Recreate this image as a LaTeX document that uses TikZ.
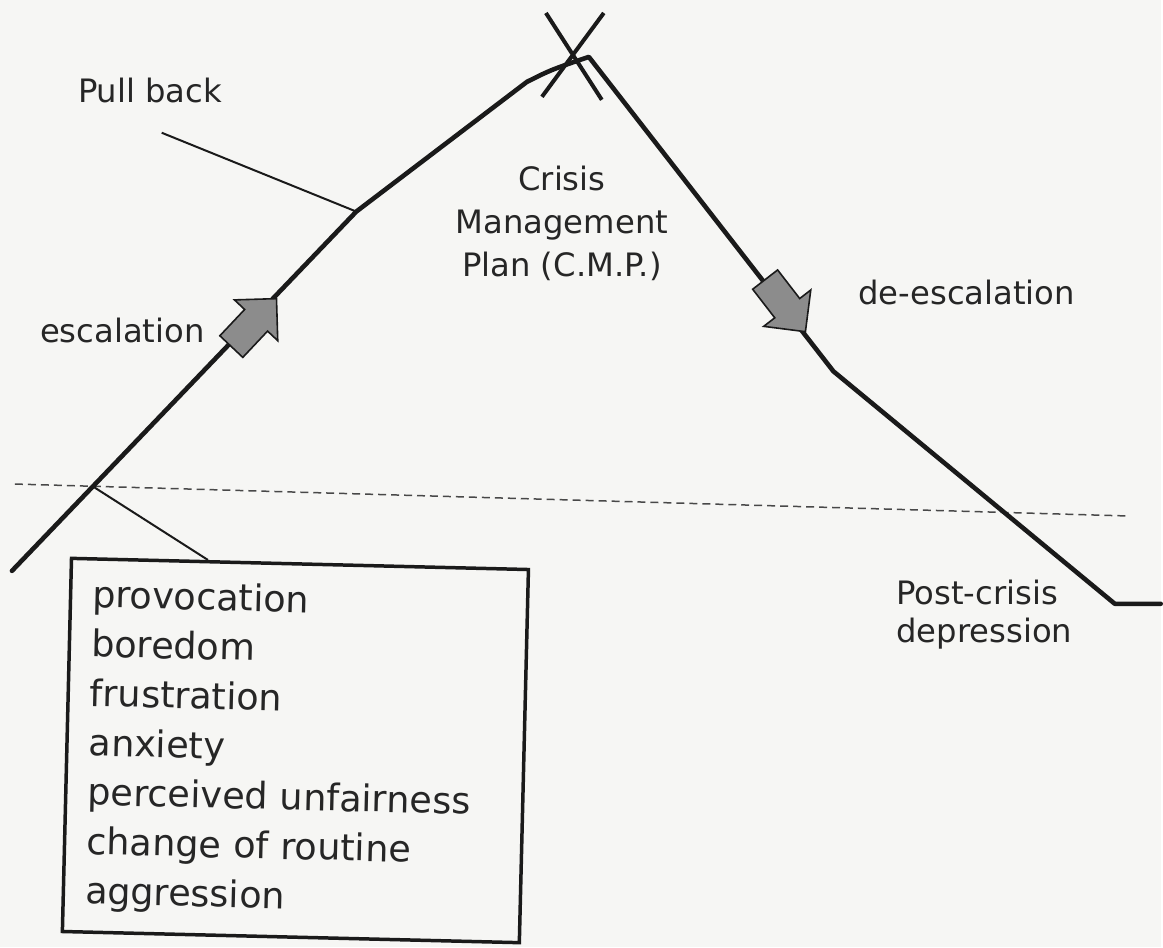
\documentclass[tikz,border=0pt]{standalone}
\usepackage{fontspec}
\setmainfont{DejaVu Sans}
\usepackage{tikz}
\usetikzlibrary{arrows.meta,positioning,calc,shapes.arrows}
\definecolor{ink}{HTML}{1A1A1A}
\definecolor{txt}{HTML}{262626}
\definecolor{paper}{HTML}{F6F6F4}
\tikzset{
  curve/.style={draw=ink,line width=4.6pt,line join=round,line cap=round},
  thinln/.style={draw=ink,line width=2pt},
  guide/.style={draw=ink!80,line width=1.5pt,dash pattern=on 8pt off 5pt},
  crossln/.style={draw=ink,line width=4pt},
  lbl/.style={text=txt,inner sep=0pt,font=\fontsize{32.3}{43}\selectfont},
  blk/.style={draw=ink,line width=1.6pt,fill=black!45,single arrow,single arrow head extend=14pt,minimum height=66pt,inner xsep=0pt,inner ysep=15pt},
  listbox/.style={draw=ink,line width=3.5pt,rotate=-1.4,minimum width=458pt,minimum height=374pt,inner xsep=22pt,text width=414pt,align=left,text=txt,font=\fontsize{36.7}{49.5}\selectfont},
}

\begin{document}
\begin{tikzpicture}[x=1pt,y=-1pt]
 \fill[paper] (0,0) rectangle (1163,949);
 % path points
 \coordinate (st) at (12,572);
 \coordinate (pb) at (357,212);
 \coordinate (sh) at (528,82);
 \coordinate (top) at (590,57);
 \coordinate (dk) at (835,372);
 \coordinate (lo) at (1117,605);
 \coordinate (en) at (1163,605);
 \coordinate (cut) at ($(st)!0.235!(pb)$);
 \draw[guide] (15,485) coordinate (gl) -- (1130,517) coordinate (gr);
 \draw[curve] (st) -- (pb) -- (sh) .. controls (552,70) .. (top) -- (dk) -- (lo) -- (en);
 % crossed-out peak
 \coordinate (xa) at (547,13); \coordinate (xb) at (603,100);
 \coordinate (xc) at (605,13); \coordinate (xd) at (543,97);
 \draw[crossln] (xa) -- (xb) (xc) -- (xd);
 % labels
 \node[lbl,anchor=base west] (pullback) at (78,103) {Pull back};
 \coordinate (pbt) at (162,133);
 \draw[thinln] (pbt) -- (pb);
 \node[lbl,anchor=base west] (esc) at (40,343) {escalation};
 \node[lbl,anchor=base west] (desc) at (860,305) {de-escalation};
 \node[lbl,align=center,anchor=north] (cmp) at (563,166) {Crisis\\Management\\Plan (C.M.P.)};
 \node[lbl,align=left,anchor=north west,font=\fontsize{32.3}{38}\selectfont] (post) at (898,581) {Post-crisis\\depression};
 \node[blk,rotate=46.7] (uparr) at (249,329) {};
 \node[blk,rotate=-52.3] (downarr) at (782,300) {};
 \node[listbox] (causes) at (296,752) {provocation\\boredom\\frustration\\anxiety\\perceived unfairness\\change of routine\\aggression};
 \draw[thinln] (cut) -- ($(causes.north west)!0.3!(causes.north east)$);
\end{tikzpicture}
\end{document}
